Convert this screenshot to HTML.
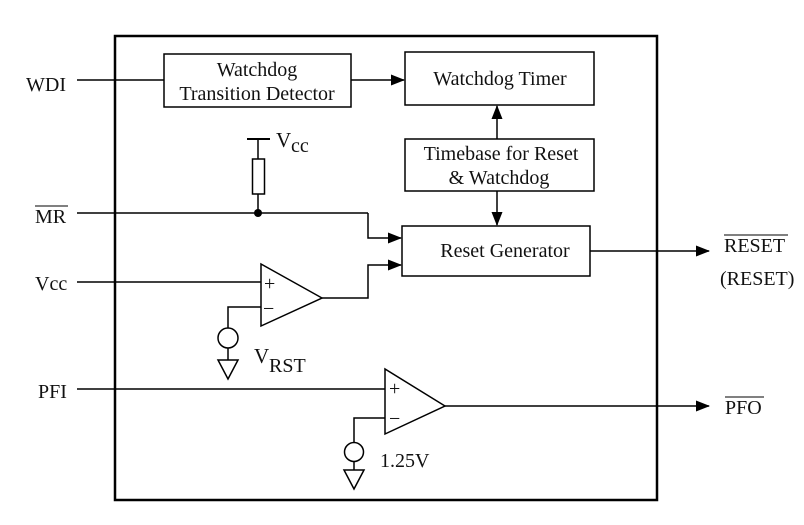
<!DOCTYPE html>
<html><head><style>html,body{margin:0;padding:0;background:#fff}svg{display:block}
text{font-family:"Liberation Serif",serif;fill:#111}</style></head><body>
<svg width="804" height="525" viewBox="0 0 804 525" xmlns="http://www.w3.org/2000/svg">
<defs><marker id="a" markerWidth="14" markerHeight="12" refX="13" refY="6" orient="auto" markerUnits="userSpaceOnUse"><path d="M0,0.5 L14,6 L0,11.5 z" fill="#000"/></marker></defs>
<g fill="none" stroke="#000" stroke-width="1.5">
<rect x="115" y="36" width="542" height="464" stroke-width="2.5"/>
<rect x="164" y="54" width="187" height="53"/>
<rect x="405" y="52" width="189" height="53"/>
<rect x="405" y="139" width="189" height="52"/>
<rect x="402" y="226" width="188" height="50"/>
<line x1="77" y1="80" x2="164" y2="80"/>
<line x1="351" y1="80" x2="404" y2="80" marker-end="url(#a)"/>
<line x1="497" y1="139" x2="497" y2="106" marker-end="url(#a)"/>
<line x1="497" y1="191" x2="497" y2="225" marker-end="url(#a)"/>
<line x1="590" y1="251" x2="709" y2="251" marker-end="url(#a)"/>
<line x1="77" y1="213" x2="368" y2="213"/>
<polyline points="368,213 368,238 401,238" marker-end="url(#a)"/>
<line x1="247" y1="139" x2="270" y2="139" stroke-width="2"/>
<line x1="258" y1="139" x2="258" y2="213"/>
<rect x="252.5" y="159" width="12" height="35" fill="#fff"/>
<line x1="77" y1="282" x2="261" y2="282"/>
<polygon points="261,264 261,326 322,298" fill="#fff"/>
<polyline points="322,298 368,298 368,265 401,265" marker-end="url(#a)"/>
<polyline points="261,307 228,307 228,328"/>
<circle cx="228" cy="338" r="10"/>
<line x1="228" y1="348" x2="228" y2="360"/>
<polygon points="218,360 238,360 228,379"/>
<line x1="77" y1="389" x2="385" y2="389"/>
<polygon points="385,369 385,434 445,406" fill="#fff"/>
<line x1="445" y1="406" x2="709" y2="406" marker-end="url(#a)"/>
<polyline points="385,418 354,418 354,443"/>
<circle cx="354" cy="452" r="9.5"/>
<line x1="354" y1="461" x2="354" y2="470"/>
<polygon points="344,470 364,470 354,489"/>
</g>
<circle cx="258" cy="213" r="4" fill="#000"/>
<g style="font-size:20px">
<text x="26" y="91">WDI</text>
<text x="35" y="223">MR</text><line x1="35" y1="206" x2="68" y2="206" stroke="#000"/>
<text x="35" y="290">Vcc</text>
<text x="38" y="398">PFI</text>
<text x="257" y="76" text-anchor="middle">Watchdog</text>
<text x="257" y="100" text-anchor="middle">Transition Detector</text>
<text x="500" y="85" text-anchor="middle">Watchdog Timer</text>
<text x="501" y="160" text-anchor="middle">Timebase for Reset</text>
<text x="499" y="184" text-anchor="middle">&amp; Watchdog</text>
<text x="505" y="257" text-anchor="middle">Reset  Generator</text>
<text x="276" y="147" style="font-size:21px">V</text><text x="291" y="152">cc</text>
<text x="254" y="363" style="font-size:21px">V</text><text x="269" y="372">RST</text>
<text x="380" y="467">1.25V</text>
<text x="724" y="252">RESET</text><line x1="724" y1="235" x2="788" y2="235" stroke="#000"/>
<text x="720" y="285">(RESET)</text>
<text x="725" y="414">PFO</text><line x1="725" y1="397" x2="764" y2="397" stroke="#000"/>
<text x="264" y="290" style="font-size:20px">+</text><text x="263" y="315" style="font-size:20px">−</text>
<text x="389" y="395" style="font-size:20px">+</text><text x="389" y="425" style="font-size:20px">−</text>
</g>
</svg>
</body></html>
